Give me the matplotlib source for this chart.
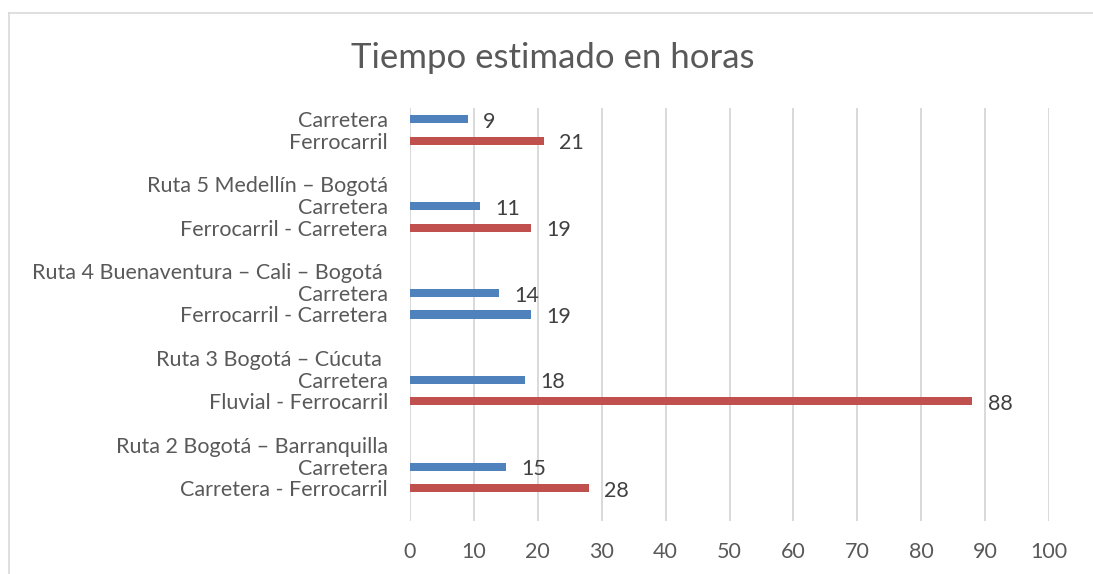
import numpy as np
import matplotlib.pyplot as plt
from matplotlib.lines import Line2D

plt.rcParams['font.family'] = ['Lato', 'DejaVu Sans']

# rows from top to bottom; None = label-only / empty row
labels = ['Carretera', 'Ferrocarril', '',
          'Ruta 5 Medellín – Bogotá', 'Carretera', 'Ferrocarril - Carretera', '',
          'Ruta 4 Buenaventura – Cali – Bogotá ', 'Carretera', 'Ferrocarril - Carretera', '',
          'Ruta 3 Bogotá – Cúcuta ', 'Carretera', 'Fluvial - Ferrocarril', '',
          'Ruta 2 Bogotá – Barranquilla', 'Carretera', 'Carretera - Ferrocarril', '']
values = [9, 21, None,
          None, 11, 19, None,
          None, 14, 19, None,
          None, 18, 88, None,
          None, 15, 28, None]
series = ['b', 'r', None,
          None, 'b', 'r', None,
          None, 'b', 'b', None,
          None, 'b', 'r', None,
          None, 'b', 'r', None]
xticks = [0, 10, 20, 30, 40, 50, 60, 70, 80, 90, 100]

palette = {'b': '#4F81BD', 'r': '#C0504D'}
txt = '#595959'

fig = plt.figure(figsize=(10.93, 5.74), dpi=100)
ax = fig.add_axes([410 / 1093, 1 - 521 / 574, (1049 - 410) / 1093, (521 - 108) / 574])

# chart frame: top and left edges (rest is outside the picture)
fx, fy = 8.5 / 1093, 1 - 12.5 / 574
fig.add_artist(Line2D([fx, 1.0], [fy, fy], transform=fig.transFigure, color='#D9D9D9', linewidth=1.2))
fig.add_artist(Line2D([fx, fx], [0, fy], transform=fig.transFigure, color='#D9D9D9', linewidth=1.2))

pos = [i for i, v in enumerate(values) if v is not None]
w = [values[i] for i in pos]
c = [palette[series[i]] for i in pos]
ax.barh(pos, w, height=0.37, color=c, zorder=3)

for p, v in zip(pos, w):
    ax.annotate(str(v), (v, p), xytext=(11, -2), textcoords='offset points',
                va='center', ha='left', fontsize=15.5, color='#404040')

ax.set_xlim(0, 100)
ax.set_ylim(len(labels) - 0.5, -0.5)
ax.set_xticks(xticks)
ax.set_yticks(range(len(labels)))
ax.set_yticklabels(labels)
ax.tick_params(axis='y', length=0, pad=16, labelsize=15.5, labelcolor=txt)
ax.tick_params(axis='x', length=0, pad=15, labelsize=15.5, labelcolor=txt)
ax.grid(axis='x', color='#D9D9D9', linewidth=1.4, zorder=0)
for s in ax.spines.values():
    s.set_visible(False)

fig.text(553 / 1093, 1 - 58 / 574, 'Tiempo estimado en horas', ha='center', va='center',
         fontsize=25, color=txt)

fig.savefig('out.png', dpi=100)
